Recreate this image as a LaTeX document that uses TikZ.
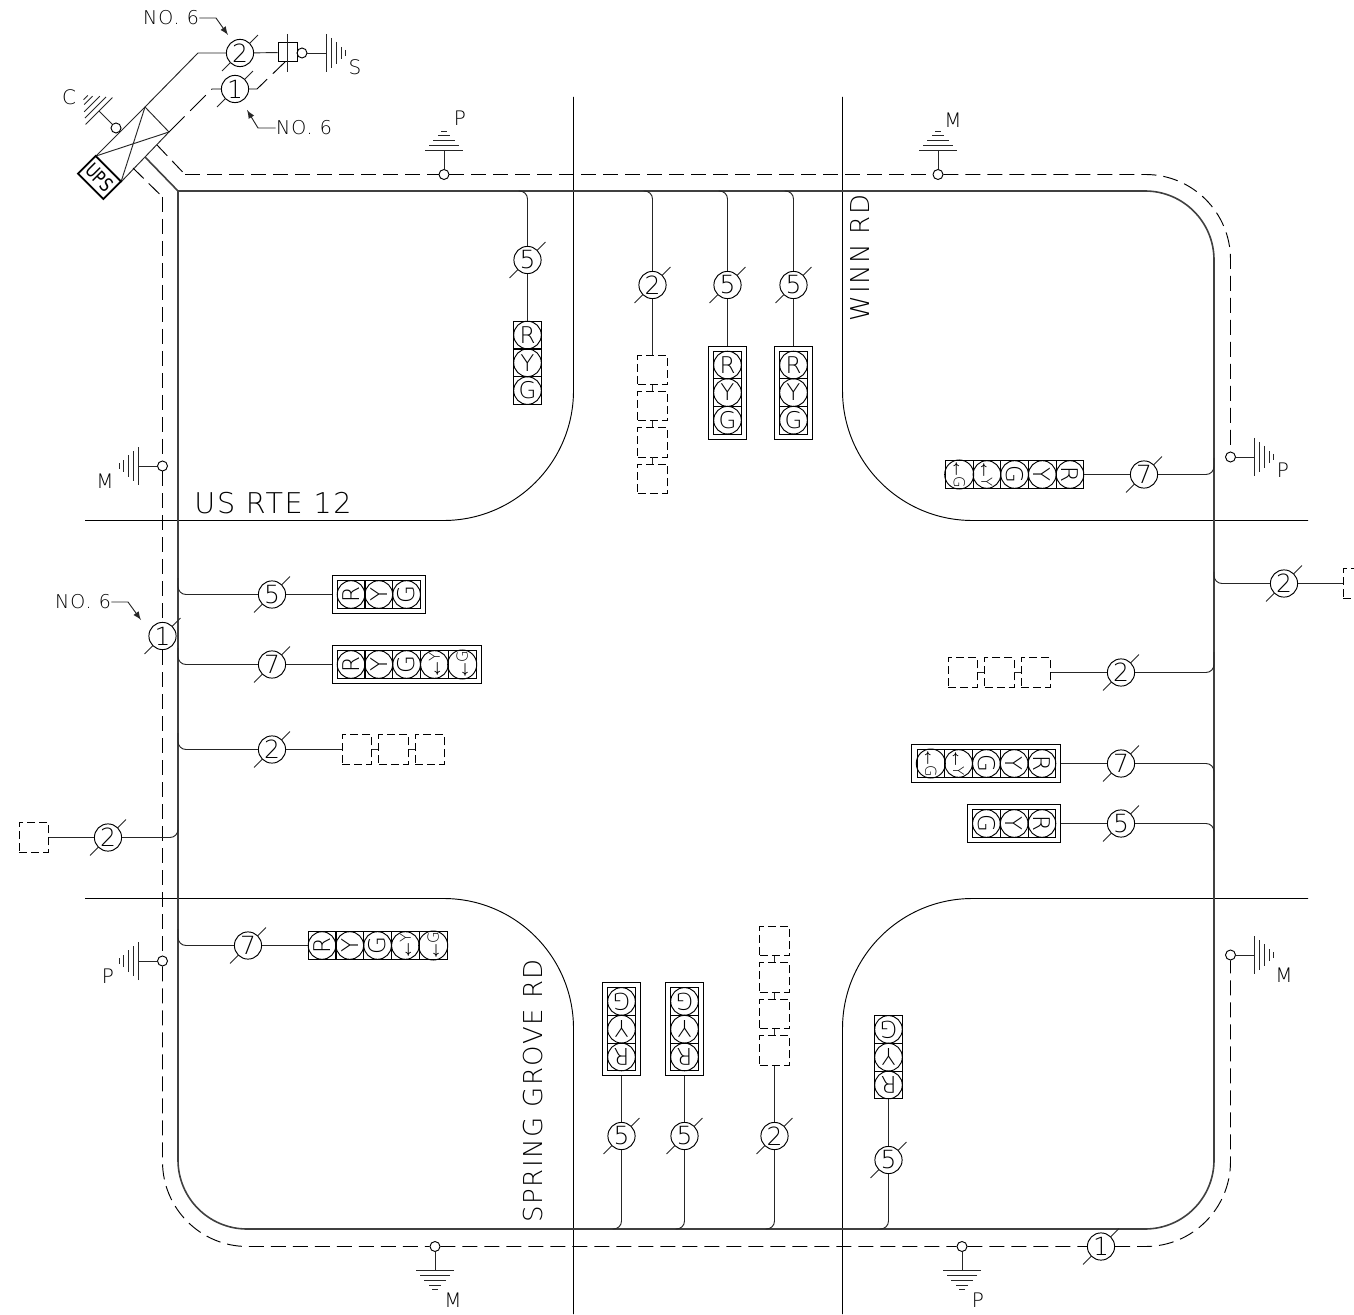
\documentclass[tikz,border=0pt]{standalone}
\usepackage{fontspec}
\setmainfont[LetterSpace=6]{DejaVu Sans ExtraLight}
\newfontfamily\upsfont{DejaVu Sans}
\usetikzlibrary{fit}

\tikzset{
	thinline/.style={line width=0.47pt, black!85},
	gndline/.style={line width=0.42pt, black!85},
	busline/.style={line width=0.8pt, black!75},
	dashbus/.style={line width=0.47pt, dash pattern=on 7.5pt off 3.5pt},
	dashfeed/.style={line width=0.47pt, dash pattern=on 11pt off 4pt},
	roadline/.style={line width=0.47pt, rounded corners=65pt},
	branch/.style={line width=0.47pt, black!85, rounded corners=4pt},
	wirecount/.style={circle, draw, line width=0.47pt, minimum size=13.6pt, inner sep=0pt, font=\fontsize{12.5}{12.5}\selectfont},
	cell/.style={rectangle, draw, line width=0.45pt, minimum size=13.8pt, inner sep=0pt},
	lamp/.style={circle, draw, line width=0.47pt, minimum size=13.8pt, inner sep=0pt, font=\fontsize{11.5}{11.5}\selectfont},
	headbox/.style={rectangle, draw, line width=0.47pt, inner sep=2.3pt},
	dashbox/.style={rectangle, draw, line width=0.42pt, dash pattern=on 4pt off 2pt, minimum size=14.6pt, inner sep=0pt},
	tap/.style={circle, draw, line width=0.47pt, minimum size=5pt, inner sep=0pt},
	gndlabel/.style={font=\fontsize{10}{10}\selectfont, inner sep=0pt},
	notelabel/.style={font=\fontsize{9.5}{9.5}\selectfont, inner sep=0pt},
	roadlabel/.style={font=\fontsize{13}{13}\selectfont, inner sep=0pt}
}

\newcommand{\arrY}{{\fontsize{5.5}{5.5}\selectfont\boldmath$\leftarrow$}{\fontsize{7.5}{7.5}\selectfont Y}}
\newcommand{\arrG}{{\fontsize{5.5}{5.5}\selectfont\boldmath$\leftarrow$}{\fontsize{7.5}{7.5}\selectfont G}}

% name, x, y, number
\newcommand{\wire}[4]{
	\node[wirecount] (#1) at (#2,#3) {#4};
	\draw[thinline] (#1.45) -- ++(8,-8);
	\draw[thinline] (#1.225) -- ++(-8,8);
}
% name, x, y, dx, dy, rotation, letters
\newcommand{\sighead}[7]{
	\foreach \sym [count=\i from 0] in {#7} {
		\node[cell] (#1-\i) at ({#2+\i*#4},{#3+\i*#5}) {};
		\node[lamp, rotate=#6] (#1-l\i) at (#1-\i) {\sym};
	}
}
% name, x, y, dx, dy, count
\newcommand{\dummyheads}[6]{
	\foreach \i in {1,...,#6} {
		\node[dashbox] (#1-\i) at ({#2+(\i-1)*#4},{#3+(\i-1)*#5}) {};
		\ifnum\i>1
			\pgfmathtruncatemacro\j{\i-1}
			\draw[thinline] (#1-\j) -- (#1-\i);
		\fi
	}
}
% name, x, y, rotation
\newcommand{\ground}[4]{
	\node[tap] (#1) at (#2,#3) {};
	\begin{scope}[shift={(#1)}, rotate=#4]
		\coordinate (#1b) at (24,0);
		\draw[thinline] (#1) -- (#1b);
		\foreach \d/\h in {0/19, 5/15, 10/11, 15/6, 19/3}
			\draw[gndline] (24+\d,-\h) -- (24+\d,\h);
	\end{scope}
}

\begin{document}
\begin{tikzpicture}[x=0.5pt, y=-0.5pt]
	\clip (0,0) rectangle (1354,1315);

	% roads
	\draw[roadline] (573.5,97) -- (573.5,520.5) -- (85,520.5);
	\draw[roadline] (842.5,97) -- (842.5,520.5) -- (1308,520.5);
	\draw[roadline] (85,898.5) -- (573.5,898.5) -- (573.5,1314);
	\draw[roadline] (1308,898.5) -- (842.5,898.5) -- (842.5,1314);
	\node[roadlabel, font=\fontsize{14.3}{14.3}\selectfont] (usrte) at (273,503) {US RTE 12};
	\node[roadlabel, rotate=90] (winn) at (860,258) {WINN RD};
	\node[roadlabel, rotate=90] (spring) at (533,1091) {SPRING GROVE RD};

	% UPS cabinet
	\coordinate (upsA) at (145,107);
	\coordinate (upsB) at (169,132);
	\coordinate (upsC) at (121,182);
	\coordinate (upsD) at (96,156);
	\draw[thinline] (upsA) -- (upsB) -- (upsC) -- (upsD) -- cycle;
	\draw[thinline] (upsA) -- (upsC) (upsB) -- (upsD);
	\node[draw, line width=0.9pt, rotate=-45, minimum width=18pt, minimum height=12.4pt, inner sep=0pt] (upsbox) at (99.5,177.5) {\scalebox{0.8}[1]{\upsfont\fontsize{9.5}{9.5}\selectfont UPS}};

	% service
	\wire{wTwo}{240}{53}{2}
	\wire{wOne}{235}{89}{1}
	\node[rectangle, draw, line width=0.5pt, minimum size=9.5pt, inner sep=0pt] (disc) at (287.5,52.5) {};
	\coordinate (discT) at (287,34);
	\coordinate (discB) at (287,72);
	\draw[thinline] (discT) -- (discB);
	\coordinate (bendTwo) at (198,53);
	\coordinate (bendOne) at (212,89);
	\coordinate (bendOneR) at (257,89);
	\coordinate (discS) at (285,62);
	\draw[thinline] (upsA) -- (bendTwo) -- (wTwo) -- (disc);
	\draw[dashfeed] (upsB) -- (bendOne) -- (wOne);
	\draw[dashfeed] (wOne) -- (bendOneR) -- (discS);

	% grounds
	\ground{gS}{302}{53}{0}
	\ground{gC}{116}{128}{135}
	\ground{gTP}{444}{174.5}{90}
	\ground{gTM}{938}{174.5}{90}
	\ground{gLM}{162.5}{466}{180}
	\ground{gLP}{162.5}{961}{180}
	\ground{gRP}{1230.5}{457}{0}
	\ground{gRM}{1230.5}{955}{0}
	\ground{gBM}{435}{1246.5}{270}
	\ground{gBP}{962}{1246.5}{270}
	\node[gndlabel] (lS) at (355,67) {S};
	\node[gndlabel] (lC) at (69,97) {C};
	\node[gndlabel] (lTP) at (460,118) {P};
	\node[gndlabel] (lTM) at (953,120) {M};
	\node[gndlabel] (lLM) at (105,481) {M};
	\node[gndlabel] (lLP) at (108,976) {P};
	\node[gndlabel] (lRP) at (1283,470) {P};
	\node[gndlabel] (lRM) at (1284,975) {M};
	\node[gndlabel] (lBM) at (453,1300) {M};
	\node[gndlabel] (lBP) at (978,1300) {P};

	% notes
	\node[notelabel] (noA) at (171,18) {NO. 6};
	\node[notelabel] (noB) at (304,128) {NO. 6};
	\node[notelabel] (noC) at (83,602) {NO. 6};
	\coordinate (tipA) at (228,35);
	\coordinate (tipB) at (247,110);
	\coordinate (tipC) at (141,620);
	\coordinate (kneeA) at (216,18);
	\coordinate (kneeB) at (258,128);
	\coordinate (kneeC) at (128,602);
	\draw[thinline, -latex] (noA) -- (kneeA) -- (tipA);
	\draw[thinline, -latex] (noB) -- (kneeB) -- (tipB);
	\draw[thinline, -latex] (noC) -- (kneeC) -- (tipC);

	% main run
	\coordinate (busNW) at (178,191);
	\coordinate (busNE) at (1214,191);
	\coordinate (busSE) at (1214,1229);
	\coordinate (busSW) at (178,1229);
	\coordinate (busUps) at (145,157);
	\draw[busline] (busUps) -- (busNW);
	\draw[busline, rounded corners=34.5pt] (busNW) -- (busNE) -- (busSE) -- (busSW) -- (busNW);

	% ground run
	\wire{wNoL}{162.5}{636}{1}
	\wire{wNoB}{1101}{1246.5}{1}
	\coordinate (upsE) at (157,145);
	\coordinate (upsW) at (133,168);
	\coordinate (dashN) at (185,174.5);
	\coordinate (dashW) at (162.5,197);
	\coordinate (dashNE) at (1230.5,174.5);
	\coordinate (dashSE) at (1230.5,1246.5);
	\coordinate (dashSW) at (162.5,1246.5);
	\draw[dashbus] (upsE) -- (dashN);
	\draw[dashbus] (upsW) -- (dashW);
	\draw[dashbus, rounded corners=42.5pt] (dashN) -- (gTP) -- (gTM);
	\draw[dashbus, rounded corners=42.5pt] (gTM) -- (dashNE) -- (gRP);
	\draw[dashbus, rounded corners=42.5pt] (dashW) -- (gLM) -- (wNoL) -- (gLP);
	\draw[dashbus, rounded corners=42.5pt] (gLP) -- (dashSW) -- (gBM) -- (gBP) -- (wNoB);
	\draw[dashbus, rounded corners=42.5pt] (wNoB) -- (dashSE) -- (gRM);

	% north heads
	\foreach \nm/\x/\y/\n in {a/527.5/260/5, b/652.5/285/2, c/727.5/285/5, d/793.5/285/5} {
		\wire{wN\nm}{\x}{\y}{\n}
		\coordinate (jN\nm) at (\x-9,191);
		\draw[branch] (jN\nm) -| (wN\nm);
	}
	\sighead{hdA}{527.5}{335}{0}{27.8}{0}{R,Y,G}
	\sighead{hdC}{727.5}{365}{0}{27.6}{0}{R,Y,G}
	\sighead{hdD}{793.5}{365}{0}{27.6}{0}{R,Y,G}
	\node[headbox, fit=(hdC-0)(hdC-2)] (boxC) {};
	\node[headbox, fit=(hdD-0)(hdD-2)] (boxD) {};
	\dummyheads{dmN}{652.5}{370}{0}{36.2}{4}
	\draw[thinline] (wNa) -- (hdA-0);
	\draw[thinline] (wNb) -- (dmN-1);
	\draw[thinline] (wNc) -- (boxC);
	\draw[thinline] (wNd) -- (boxD);

	% east heads
	\foreach \nm/\x/\y/\n/\jy in {a/1144/474.5/7/458, b/1284/583.5/2/572, c/1121/672.5/2/652, d/1121/763.5/7/790, e/1121/823.5/5/850} {
		\wire{wE\nm}{\x}{\y}{\n}
		\coordinate (jE\nm) at (1214,\jy);
		\draw[branch] (jE\nm) |- (wE\nm);
	}
	\sighead{hdE}{1070}{474.5}{-27.7}{0}{-90}{R,Y,G,\arrY,\arrG}
	\sighead{hdF}{1042}{763.5}{-27.8}{0}{-90}{R,Y,G,\arrY,\arrG}
	\sighead{hdG}{1042}{823.5}{-27.8}{0}{-90}{R,Y,G}
	\node[headbox, fit=(hdF-0)(hdF-4)] (boxF) {};
	\node[headbox, fit=(hdG-0)(hdG-2)] (boxG) {};
	\dummyheads{dmE}{1036}{672.5}{-36.6}{0}{3}
	\dummyheads{dmF}{1358}{583.5}{0}{0}{1}
	\draw[thinline] (wEa) -- (hdE-0);
	\draw[thinline] (wEb) -- (dmF-1);
	\draw[thinline] (wEc) -- (dmE-1);
	\draw[thinline] (wEd) -- (boxF);
	\draw[thinline] (wEe) -- (boxG);

	% west heads
	\foreach \nm/\x/\y/\n/\jy in {a/272/594.5/5/578, b/272/664.5/7/648, c/272/749.5/2/733, d/108/837.5/2/820, e/248/945.5/7/929} {
		\wire{wW\nm}{\x}{\y}{\n}
		\coordinate (jW\nm) at (178,\jy);
		\draw[branch] (jW\nm) |- (wW\nm);
	}
	\sighead{hdH}{351}{594.5}{27.8}{0}{90}{R,Y,G}
	\sighead{hdI}{351}{664.5}{27.8}{0}{90}{R,Y,G,\arrY,\arrG}
	\sighead{hdJ}{322}{945.5}{27.8}{0}{90}{R,Y,G,\arrY,\arrG}
	\node[headbox, fit=(hdH-0)(hdH-2)] (boxH) {};
	\node[headbox, fit=(hdI-0)(hdI-4)] (boxI) {};
	\dummyheads{dmW}{357}{749.5}{36.5}{0}{3}
	\dummyheads{dmX}{34}{837.5}{0}{0}{1}
	\draw[thinline] (wWa) -- (boxH);
	\draw[thinline] (wWb) -- (boxI);
	\draw[thinline] (wWc) -- (dmW-1);
	\draw[thinline] (wWd) -- (dmX-1);
	\draw[thinline] (wWe) -- (hdJ-0);

	% south heads
	\foreach \nm/\x/\y/\n in {a/621.5/1136/5, b/684.5/1136/5, c/774.5/1136/2, d/888.5/1160/5} {
		\wire{wS\nm}{\x}{\y}{\n}
		\coordinate (jS\nm) at (\x-9,1229);
		\draw[branch] (jS\nm) -| (wS\nm);
	}
	\sighead{hdK}{621.5}{1057}{0}{-27.8}{180}{R,Y,G}
	\sighead{hdL}{684.5}{1057}{0}{-27.8}{180}{R,Y,G}
	\sighead{hdM}{888.5}{1085}{0}{-27.8}{180}{R,Y,G}
	\node[headbox, fit=(hdK-0)(hdK-2)] (boxK) {};
	\node[headbox, fit=(hdL-0)(hdL-2)] (boxL) {};
	\dummyheads{dmS}{774.5}{1050.5}{0}{-36.5}{4}
	\draw[thinline] (wSa) -- (boxK);
	\draw[thinline] (wSb) -- (boxL);
	\draw[thinline] (wSc) -- (dmS-1);
	\draw[thinline] (wSd) -- (hdM-0);
\end{tikzpicture}
\end{document}
